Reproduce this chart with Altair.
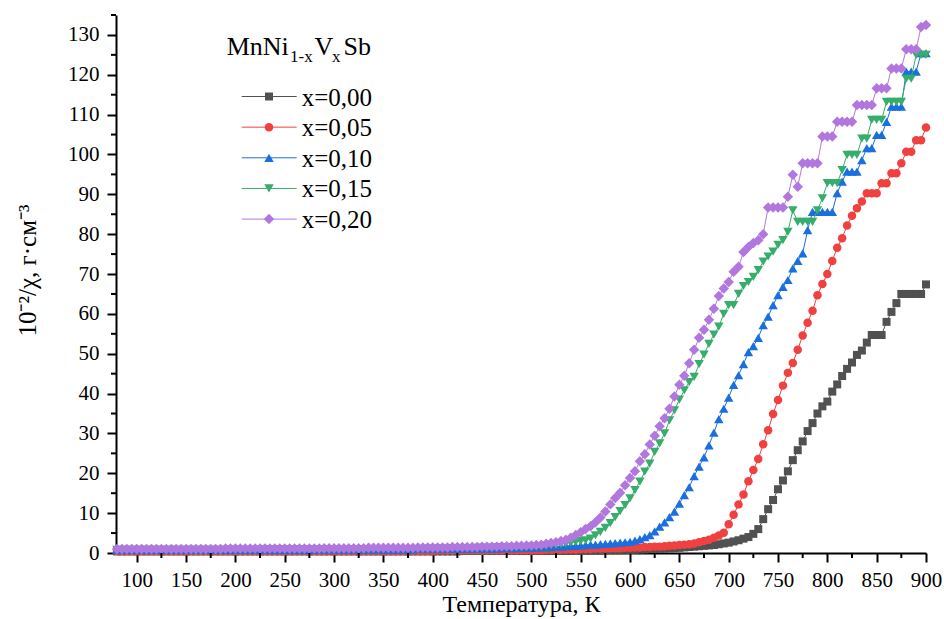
import altair as alt
import pandas as pd

# Temperature grid (K), one reading every 5 K from 80 K to 900 K
temperature = list(range(80, 905, 5))

# 10^-2/chi values, rows of 10 temperatures (80-125, 130-175, ...)
chi_x000 = [
    0.4, 0.4, 0.4, 0.4, 0.4, 0.4, 0.4, 0.4, 0.4, 0.4,
    0.4, 0.4, 0.4, 0.4, 0.4, 0.4, 0.4, 0.4, 0.4, 0.4,
    0.4, 0.4, 0.4, 0.4, 0.4, 0.4, 0.4, 0.4, 0.4, 0.4,
    0.4, 0.4, 0.4, 0.4, 0.4, 0.4, 0.4, 0.4, 0.4, 0.4,
    0.4, 0.4, 0.4, 0.4, 0.4, 0.4, 0.4, 0.4, 0.4, 0.4,
    0.4, 0.4, 0.4, 0.4, 0.4, 0.4, 0.4, 0.4, 0.4, 0.4,
    0.4, 0.4, 0.4, 0.4, 0.4, 0.4, 0.4, 0.4, 0.4, 0.4,
    0.5, 0.5, 0.5, 0.5, 0.5, 0.5, 0.5, 0.5, 0.5, 0.5,
    0.5, 0.5, 0.5, 0.5, 0.5, 0.5, 0.5, 0.5, 0.5, 0.5,
    0.5, 0.5, 0.5, 0.6, 0.6, 0.6, 0.6, 0.6, 0.6, 0.7,
    0.7, 0.7, 0.7, 0.8, 0.8, 0.8, 0.9, 0.9, 1.0, 1.0,
    1.1, 1.1, 1.2, 1.2, 1.3, 1.4, 1.5, 1.6, 1.7, 1.8,
    1.9, 2.0, 2.2, 2.4, 2.6, 2.9, 3.2, 3.6, 4.0, 4.8,
    6.0, 8.5, 11.0, 13.3, 16.0, 18.2, 20.5, 23.3, 25.8, 28.0,
    30.6, 32.6, 35.0, 36.8, 38.0, 40.5, 42.3, 44.4, 46.2, 47.8,
    49.7, 50.8, 52.8, 54.7, 54.7, 54.7, 58.0, 60.5, 62.7, 65.0,
    65.0, 65.0, 65.0, 65.0, 67.4,
]
chi_x005 = [
    0.5, 0.5, 0.5, 0.5, 0.5, 0.5, 0.5, 0.5, 0.5, 0.5,
    0.5, 0.5, 0.5, 0.5, 0.5, 0.5, 0.5, 0.5, 0.5, 0.5,
    0.5, 0.5, 0.5, 0.5, 0.5, 0.5, 0.5, 0.5, 0.5, 0.5,
    0.5, 0.5, 0.5, 0.5, 0.5, 0.5, 0.5, 0.5, 0.5, 0.5,
    0.5, 0.5, 0.5, 0.5, 0.5, 0.5, 0.5, 0.5, 0.5, 0.5,
    0.5, 0.5, 0.5, 0.5, 0.5, 0.5, 0.5, 0.5, 0.5, 0.5,
    0.5, 0.5, 0.5, 0.5, 0.5, 0.6, 0.6, 0.6, 0.6, 0.6,
    0.6, 0.6, 0.6, 0.6, 0.6, 0.6, 0.6, 0.6, 0.6, 0.6,
    0.6, 0.6, 0.7, 0.7, 0.7, 0.7, 0.7, 0.8, 0.8, 0.8,
    0.8, 0.9, 0.9, 0.9, 1.0, 1.0, 1.0, 1.1, 1.1, 1.1,
    1.2, 1.2, 1.2, 1.3, 1.3, 1.4, 1.4, 1.5, 1.5, 1.6,
    1.6, 1.7, 1.8, 1.9, 2.0, 2.1, 2.2, 2.4, 2.7, 3.0,
    3.3, 3.8, 4.4, 5.1, 7.2, 9.6, 12.2, 14.7, 18.0, 20.8,
    23.6, 27.3, 30.8, 34.9, 38.4, 42.0, 45.2, 47.7, 51.0, 54.6,
    57.8, 60.8, 64.7, 67.5, 70.0, 73.3, 76.6, 79.0, 82.2, 84.6,
    86.5, 88.2, 90.3, 90.3, 90.3, 92.8, 92.8, 95.3, 95.3, 97.8,
    100.7, 100.7, 103.6, 103.6, 106.8,
]
chi_x010 = [
    0.8, 0.8, 0.8, 0.8, 0.8, 0.8, 0.8, 0.8, 0.8, 0.8,
    0.8, 0.8, 0.8, 0.8, 0.8, 0.8, 0.8, 0.8, 0.8, 0.8,
    0.8, 0.8, 0.8, 0.8, 0.8, 0.8, 0.8, 0.8, 0.8, 0.8,
    0.8, 0.8, 0.8, 0.8, 0.8, 0.8, 0.8, 0.8, 0.8, 0.8,
    0.9, 0.9, 0.9, 0.9, 0.9, 0.9, 0.9, 0.9, 0.9, 0.9,
    0.9, 0.9, 0.9, 0.9, 0.9, 0.9, 0.9, 0.9, 0.9, 0.9,
    0.9, 1.0, 1.0, 1.0, 1.0, 1.0, 1.0, 1.0, 1.0, 1.0,
    1.0, 1.0, 1.1, 1.1, 1.1, 1.1, 1.1, 1.1, 1.2, 1.2,
    1.2, 1.2, 1.3, 1.3, 1.3, 1.4, 1.4, 1.5, 1.5, 1.6,
    1.6, 1.7, 1.8, 1.8, 1.9, 2.0, 2.1, 2.1, 2.2, 2.3,
    2.4, 2.5, 2.6, 2.7, 2.8, 3.1, 3.5, 4.0, 4.5, 5.4,
    6.6, 7.7, 9.0, 10.4, 12.4, 14.5, 16.5, 19.3, 21.7, 24.0,
    27.0, 30.2, 33.6, 36.2, 39.0, 42.2, 44.6, 47.4, 50.4, 51.9,
    54.0, 57.2, 59.3, 62.2, 64.7, 66.8, 68.5, 71.4, 73.3, 75.2,
    81.0, 85.6, 85.6, 85.6, 85.6, 85.6, 90.3, 93.2, 95.7, 95.7,
    95.7, 98.6, 101.6, 101.6, 104.9, 104.9, 108.2, 112.0, 112.0, 112.0,
    120.8, 120.8, 120.8, 125.4, 125.4,
]
chi_x015 = [
    0.8, 0.8, 0.8, 0.8, 0.8, 0.8, 0.8, 0.8, 0.8, 0.8,
    0.8, 0.8, 0.8, 0.8, 0.8, 0.8, 0.8, 0.8, 0.8, 0.8,
    0.8, 0.8, 0.8, 0.8, 0.8, 0.8, 0.8, 0.8, 0.8, 0.8,
    0.9, 0.9, 0.9, 0.9, 0.9, 0.9, 0.9, 0.9, 0.9, 0.9,
    0.9, 0.9, 0.9, 0.9, 0.9, 0.9, 0.9, 0.9, 0.9, 0.9,
    0.9, 0.9, 1.0, 1.0, 1.0, 1.0, 1.0, 1.0, 1.0, 1.0,
    1.0, 1.0, 1.0, 1.1, 1.1, 1.1, 1.1, 1.1, 1.2, 1.2,
    1.2, 1.2, 1.2, 1.3, 1.3, 1.3, 1.3, 1.4, 1.4, 1.4,
    1.4, 1.5, 1.5, 1.5, 1.6, 1.6, 1.7, 1.8, 1.9, 2.0,
    2.2, 2.4, 2.6, 2.8, 3.0, 3.2, 3.6, 4.4, 5.3, 6.3,
    7.5, 9.0, 10.5, 12.0, 13.7, 15.8, 17.9, 20.4, 22.4, 25.4,
    27.5, 30.0, 33.3, 35.8, 38.5, 40.8, 42.9, 44.2, 47.4, 49.8,
    52.5, 54.8, 56.8, 60.0, 62.2, 62.2, 65.0, 67.0, 68.0, 69.3,
    71.0, 73.1, 74.4, 75.6, 77.3, 78.5, 80.6, 86.0, 83.1, 83.1,
    83.1, 83.1, 86.0, 89.0, 92.8, 92.8, 92.8, 96.1, 99.9, 99.9,
    99.9, 104.0, 104.0, 108.7, 108.7, 108.7, 113.2, 113.2, 113.2, 113.2,
    119.0, 119.0, 125.0, 125.0, 125.0,
]
chi_x020 = [
    1.0, 1.0, 1.0, 1.0, 1.0, 1.0, 1.0, 1.0, 1.0, 1.0,
    1.0, 1.0, 1.0, 1.0, 1.0, 1.0, 1.0, 1.0, 1.0, 1.0,
    1.0, 1.0, 1.1, 1.1, 1.1, 1.1, 1.1, 1.1, 1.1, 1.1,
    1.1, 1.1, 1.1, 1.1, 1.1, 1.1, 1.1, 1.1, 1.1, 1.1,
    1.1, 1.1, 1.2, 1.2, 1.2, 1.2, 1.2, 1.2, 1.2, 1.2,
    1.2, 1.3, 1.3, 1.3, 1.3, 1.3, 1.3, 1.3, 1.3, 1.3,
    1.3, 1.4, 1.4, 1.4, 1.4, 1.4, 1.4, 1.4, 1.5, 1.5,
    1.5, 1.5, 1.5, 1.5, 1.6, 1.6, 1.6, 1.6, 1.7, 1.7,
    1.7, 1.8, 1.8, 1.9, 1.9, 2.0, 2.1, 2.3, 2.5, 2.7,
    3.0, 3.3, 3.8, 4.5, 5.2, 6.0, 6.7, 7.7, 8.9, 10.4,
    12.2, 13.8, 15.1, 17.0, 18.8, 20.5, 23.0, 24.8, 27.2, 29.4,
    31.8, 33.8, 36.2, 39.3, 42.2, 44.5, 47.6, 51.0, 54.0, 56.0,
    58.5, 61.3, 64.5, 66.4, 68.0, 70.6, 71.8, 75.5, 76.8, 77.8,
    78.5, 80.0, 86.7, 86.7, 86.7, 86.7, 89.4, 94.9, 91.9, 97.8,
    97.8, 97.8, 97.8, 104.5, 104.5, 104.5, 108.2, 108.2, 108.2, 108.2,
    112.4, 112.4, 112.4, 112.4, 116.6, 116.6, 116.6, 121.6, 121.6, 121.6,
    126.4, 126.4, 126.4, 132.0, 132.5,
]

series_values = [chi_x000, chi_x005, chi_x010, chi_x015, chi_x020]
series_labels = ["x=0,00", "x=0,05", "x=0,10", "x=0,15", "x=0,20"]

x_ticks = [100, 150, 200, 250, 300, 350, 400, 450, 500, 550, 600, 650, 700, 750, 800, 850, 900]
x_minor = [125, 175, 225, 275, 325, 375, 425, 475, 525, 575, 625, 675, 725, 775, 825, 875]
y_ticks = [0, 10, 20, 30, 40, 50, 60, 70, 80, 90, 100, 110, 120, 130]
y_minor = [5, 15, 25, 35, 45, 55, 65, 75, 85, 95, 105, 115, 125, 135]

# styles
colors = ["#515151", "#F14040", "#1A6FDF", "#37AD6B", "#B177DE"]
shapes = ["square", "circle", "triangle-up", "triangle-down", "diamond"]
sizes = [64, 72, 90, 90, 110]
FONT = "Liberation Serif"
W, H = 810, 538

xscale = alt.Scale(domain=[79, 900], nice=False, zero=False)
yscale = alt.Scale(domain=[0, 135], nice=False, zero=False)

x_axis = alt.Axis(values=x_ticks, title="Температура, К", grid=False, tickSize=9, tickWidth=2,
                  domainWidth=2, domainColor="black", tickColor="black", labelColor="black",
                  labelFont=FONT, labelFontSize=21, labelPadding=7, labelFlush=False,
                  labelOverlap=False, titleFont=FONT, titleFontSize=24, titleFontWeight="normal",
                  titleColor="black", titlePadding=2)
y_axis = alt.Axis(values=y_ticks, title="10⁻²/χ, г·см⁻³", grid=False, tickSize=9, tickWidth=2,
                  domainWidth=2, domainColor="black", tickColor="black", labelColor="black",
                  labelFont=FONT, labelFontSize=21, labelPadding=8, labelFlush=False,
                  labelOverlap=False, titleFont=FONT, titleFontSize=25, titleFontWeight="normal",
                  titleColor="black", titleAngle=270, titleAlign="center",
                  titleBaseline="alphabetic", titleX=-81, titleY=255)

X = alt.X("T:Q", scale=xscale, axis=x_axis)
Y = alt.Y("v:Q", scale=yscale, axis=y_axis)

layers = []
for i, (vals, lab) in enumerate(zip(series_values, series_labels)):
    df = pd.DataFrame({"T": temperature, "v": vals})
    line = alt.Chart(df).mark_line(color=colors[i], strokeWidth=1).encode(x=X, y=Y)
    pts = alt.Chart(df).mark_point(filled=True, opacity=1, color=colors[i], shape=shapes[i],
                                   size=sizes[i]).encode(x=X, y=Y)
    layers += [line, pts]

# minor ticks
xm = alt.Chart(pd.DataFrame({"T": x_minor})).mark_rule(color="black", strokeWidth=2).encode(
    x=X, y=alt.value(H), y2=alt.value(H + 5))
ym = alt.Chart(pd.DataFrame({"v": y_minor})).mark_rule(color="black", strokeWidth=2).encode(
    y=Y, x=alt.value(0), x2=alt.value(-5))
layers += [xm, ym]

# legend (custom, drawn inside the plot area)
one = pd.DataFrame({"k": [0]})
title_parts = [("MnNi", 26, 110.7, 40), ("1-x", 17, 174, 47), ("V", 26, 198.5, 40),
               ("x", 17, 216, 47), ("Sb", 26, 227.5, 40)]
for txt, fs, px, py in title_parts:
    layers.append(alt.Chart(one).mark_text(text=txt, font=FONT, fontSize=fs, color="black",
                                           align="left", baseline="alphabetic").encode(
        x=alt.value(px), y=alt.value(py)))
for i, lab in enumerate(series_labels):
    ry = 81.5 + 30.65 * i
    layers.append(alt.Chart(one).mark_rule(color=colors[i], strokeWidth=1).encode(
        x=alt.value(125.7), x2=alt.value(180.7), y=alt.value(ry)))
    layers.append(alt.Chart(one).mark_point(filled=True, opacity=1, color=colors[i],
                                            shape=shapes[i], size=sizes[i]).encode(
        x=alt.value(153), y=alt.value(ry)))
    layers.append(alt.Chart(one).mark_text(text=lab, font=FONT, fontSize=25, color="black",
                                           align="left", baseline="middle").encode(
        x=alt.value(185.7), y=alt.value(ry + 1)))

chart = alt.layer(*layers).properties(
    width=W, height=H,
    autosize=alt.AutoSizeParams(type="none"),
    padding={"left": 116, "top": 15, "right": 18, "bottom": 66},
).configure_view(stroke=None).configure_axis(zindex=1)

chart.save("out.html", embed_options={"renderer": "svg", "actions": False})
